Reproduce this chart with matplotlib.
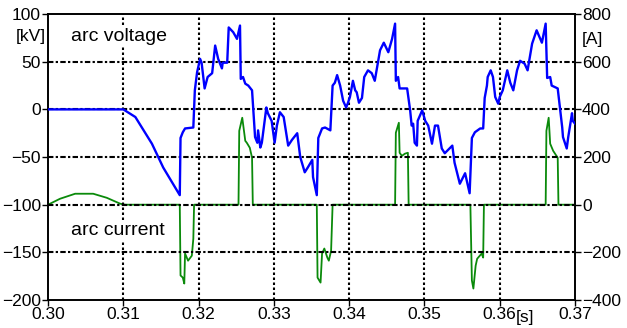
import matplotlib
matplotlib.use("Agg")
import matplotlib.pyplot as plt

plt.rcParams['font.family'] = ['Liberation Sans', 'DejaVu Sans']

# arc voltage [kV]
t_v = [0.3000, 0.3100, 0.3116, 0.3138, 0.3153, 0.3175, 0.3176, 0.3179, 0.3182, 0.3193,
       0.3195, 0.3198, 0.3202, 0.3204, 0.3208, 0.3212, 0.3218, 0.3222, 0.3226, 0.3231,
       0.3232, 0.3238, 0.3240, 0.3246, 0.3251, 0.3255, 0.3256, 0.3259, 0.3262, 0.3266,
       0.3271, 0.3275, 0.3278, 0.3279, 0.3282, 0.3284, 0.3290, 0.3292, 0.3297, 0.3301,
       0.3304, 0.3308, 0.3313, 0.3319, 0.3324, 0.3331, 0.3335, 0.3341, 0.3345, 0.3351,
       0.3352, 0.3357, 0.3359, 0.3364, 0.3368, 0.3375, 0.3378, 0.3381, 0.3384, 0.3388,
       0.3392, 0.3396, 0.3398, 0.3401, 0.3405, 0.3408, 0.3410, 0.3413, 0.3417, 0.3420,
       0.3425, 0.3430, 0.3434, 0.3441, 0.3446, 0.3452, 0.3457, 0.3461, 0.3462, 0.3465,
       0.3467, 0.3477, 0.3481, 0.3483, 0.3485, 0.3487, 0.3490, 0.3491, 0.3497, 0.3501,
       0.3505, 0.3510, 0.3514, 0.3518, 0.3523, 0.3527, 0.3537, 0.3540, 0.3547, 0.3554,
       0.3556, 0.3560, 0.3563, 0.3567, 0.3574, 0.3578, 0.3580, 0.3583, 0.3584, 0.3588,
       0.3591, 0.3594, 0.3598, 0.3600, 0.3604, 0.3610, 0.3614, 0.3618, 0.3623, 0.3627,
       0.3633, 0.3637, 0.3643, 0.3649, 0.3656, 0.3661, 0.3663, 0.3667, 0.3669, 0.3677,
       0.3683, 0.3684, 0.3689, 0.3691, 0.3696, 0.3697, 0.3700]
voltage = [0, 0, -8, -36, -61, -90, -30, -24, -20, -19,
           20, 39, 53, 49, 22, 34, 38, 67, 53, 43,
           49, 49, 86, 81, 74, 88, 32, 34, 27, 25,
           20, -29, -35, -22, -40, -35, 2, -4, -12, -35,
           -17, -3, -8, -38, -32, -25, -50, -66, -61, -53,
           -71, -90, -30, -20, -19, -22, 25, 28, 36, 25,
           9, 2, 6, 13, 30, 20, 18, 7, 12, 34,
           41, 38, 30, 62, 70, 60, 74, 90, 30, 34,
           22, 22, -1, -17, -15, -35, -38, -12, -1, -12,
           -17, -36, -17, -17, -41, -46, -38, -56, -78, -67,
           -74, -88, -30, -24, -20, -20, 12, 25, 34, 41,
           34, 13, 6, 13, 20, 41, 28, 20, 41, 51,
           48, 41, 69, 83, 70, 90, 33, 34, 25, 22,
           -19, -29, -41, -29, -4, -12, -15]

# arc current [A]
t_i = [0.3000, 0.3016, 0.3036, 0.3060, 0.3078, 0.3096, 0.3103, 0.3175, 0.3176, 0.3179,
       0.3181, 0.3182, 0.3186, 0.3191, 0.3193, 0.3194, 0.3253, 0.3254, 0.3258, 0.3262,
       0.3264, 0.3268, 0.3271, 0.3272, 0.3357, 0.3358, 0.3362, 0.3364, 0.3367, 0.3371,
       0.3373, 0.3376, 0.3378, 0.3461, 0.3462, 0.3466, 0.3467, 0.3470, 0.3474, 0.3478,
       0.3479, 0.3561, 0.3563, 0.3565, 0.3568, 0.3570, 0.3576, 0.3578, 0.3579, 0.3661,
       0.3662, 0.3665, 0.3667, 0.3671, 0.3677, 0.3678, 0.3700]
current = [0, 25, 46, 46, 29, 4, 0, 0, -297, -306,
           -331, -205, -235, -214, -143, 0, 0, 310, 365, 268,
           260, 239, 197, 0, 0, -306, -327, -205, -184, -222,
           -235, -193, 0, 0, 302, 344, 218, 205, 214, 218,
           0, 0, -318, -352, -256, -227, -205, -222, 0, 0,
           310, 365, 256, 226, 197, 0, 0]

x_ticks = [0.30, 0.31, 0.32, 0.33, 0.34, 0.35, 0.36, 0.37]
v_ticks = [-200, -150, -100, -50, 0, 50, 100]
i_ticks = [-400, -200, 0, 200, 400, 600, 800]

fig = plt.figure(figsize=(6.27, 3.28), dpi=100)
ax = fig.add_axes([0.0766, 0.0854, 0.8405, 0.8716])
ax2 = ax.twinx()

for xt in x_ticks[1:-1]:
    ax.axvline(xt, color='black', lw=1.5, dashes=[1.2, 1.2], zorder=1)
for yt in v_ticks[1:-1]:
    ax.axhline(yt, color='black', lw=1.5, dashes=[2.6, 1.1, 1.1, 1.1], zorder=1)

ax.plot(t_v, voltage, color='#0000ff', lw=1.7, zorder=4)
ax2.plot(t_i, current, color='#0a8a0a', lw=1.3, zorder=3)

ax.set_xlim(0.30, 0.37)
ax.set_ylim(-200, 100)
ax2.set_ylim(-400, 800)
ax.set_xticks(x_ticks)
ax.set_xticklabels([f"{v:.2f}" for v in x_ticks])
ax.set_yticks(v_ticks)
ax2.set_yticks(i_ticks)

fs = 12.5
for a in (ax, ax2):
    a.tick_params(direction='out', length=4, width=1, labelsize=fs, pad=1)
    for s in a.spines.values():
        s.set_linewidth(1.2)
ax.tick_params(axis='x', pad=1)

ax.set_zorder(ax2.get_zorder() + 1)
ax.patch.set_visible(False)

ax.text(-0.005, 0.92, "[kV]", transform=ax.transAxes, ha='right', va='center', fontsize=fs)
ax2.text(1.012, 0.91, "[A]", transform=ax2.transAxes, ha='left', va='center', fontsize=fs)
ax.text(0.906, -0.063, "[s]", transform=ax.transAxes, ha='center', va='center', fontsize=fs)

bbox = dict(facecolor='white', edgecolor='none', pad=1)
ax.text(0.3031, 77, "arc voltage", fontsize=14, ha='left', va='center', bbox=bbox, zorder=5)
ax.text(0.3031, -127, "arc current", fontsize=14, ha='left', va='center', bbox=bbox, zorder=5)

fig.savefig("out.png", dpi=100)
